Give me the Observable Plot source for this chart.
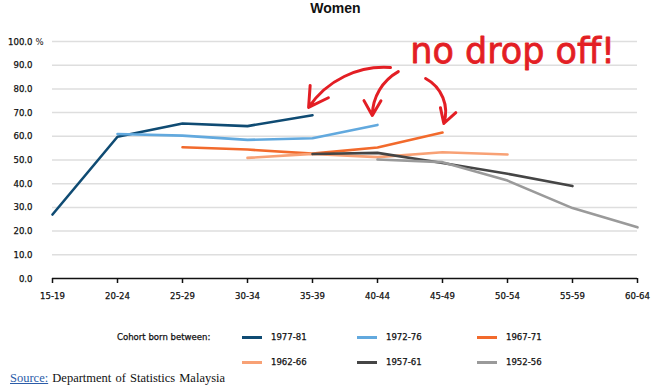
<!DOCTYPE html>
<html><head><meta charset="utf-8">
<script src="https://cdn.jsdelivr.net/npm/d3@7"></script>
<script src="https://cdn.jsdelivr.net/npm/@observablehq/plot@0.6"></script>
<style>
body{margin:0;background:#fff;width:671px;height:391px;position:relative;overflow:hidden;font-family:"DejaVu Sans Condensed","DejaVu Sans",sans-serif}
#title{position:absolute;left:0;top:0;width:671px;height:30px;line-height:32px;text-align:center;font:bold 14px "Liberation Sans",Arial,sans-serif;color:#111}
#chart{position:absolute;left:0;top:30px}
.leg{position:absolute;font-size:9.5px;font-stretch:condensed;color:#111;line-height:12px;white-space:nowrap;-webkit-text-stroke:0.25px #111}
.sw{position:absolute;height:3px;width:20px}
#source{position:absolute;left:10px;top:371px;font:12.5px "Liberation Serif","Times New Roman",serif;color:#111;word-spacing:1px;white-space:nowrap}
#source a{color:#2b5ca8;text-decoration:underline}
</style></head>
<body>
<div id="title">Women</div>
<div id="chart"></div>
<div id="legend"></div>
<div id="source"><a>Source:</a> Department of Statistics Malaysia</div>
<script>
const ageGroups = ["15-19","20-24","25-29","30-34","35-39","40-44","45-49","50-54","55-59","60-64"];
const cohorts = ["1977-81","1972-76","1967-71","1962-66","1957-61","1952-56"];
const colors = ["#0f4b73","#62a9de","#f26a2c","#f8a175","#454545","#9a9a9a"];
const c1977 = [27.0, 59.8, 65.4, 64.3, 68.9, null, null, null, null, null];
const c1972 = [null, 61.0, 60.3, 58.5, 59.2, 64.8, null, null, null, null];
const c1967 = [null, null, 55.4, 54.4, 52.7, 55.3, 61.6, null, null, null];
const c1962 = [null, null, null, 50.9, 52.6, 51.2, 53.3, 52.3, null, null];
const c1957 = [null, null, null, null, 52.5, 53.0, 48.7, 44.2, 39.0, null];
const c1952 = [null, null, null, null, null, 50.2, 49.1, 41.3, 29.7, 21.6];
const yTicks = [0,10,20,30,40,50,60,70,80,90,100];
const annotationText = ["no drop off!"];
// annotation arrows: start/end as (age-group index, %), bend in degrees
const arrowStartX = [5.2, 5.32, 5.74];
const arrowStartY = [89.0, 87.3, 84.4];
const arrowEndX = [3.94, 4.92, 6.02];
const arrowEndY = [72.2, 68.8, 65.4];
const arrowBend = [-30, -30, 40];

const series = [c1977, c1972, c1967, c1962, c1957, c1952];
const rows = [];
series.forEach((s, ci) => s.forEach((v, i) => { if (v != null) rows.push({cohort: cohorts[ci], i, v}); }));
const fontAxis = "DejaVu Sans Condensed, DejaVu Sans, sans-serif";
const tickStyle = {fontSize: 9.5, fill: "#111", stroke: null};

const arrowMarks = arrowStartX.map((_, k) => Plot.arrow([k], {
  x1: () => arrowStartX[k], y1: () => arrowStartY[k],
  x2: () => arrowEndX[k], y2: () => arrowEndY[k],
  bend: arrowBend[k], stroke: "#e31e24", strokeWidth: 3, headLength: 11
}));

const chart = Plot.plot({
  width: 671, height: 290,
  marginTop: 11, marginBottom: 42, marginLeft: 52, marginRight: 34,
  style: {fontFamily: fontAxis, background: "transparent", overflow: "visible"},
  x: {type: "linear", domain: [0, ageGroups.length - 1], axis: null},
  y: {domain: [0, 100], axis: null},
  color: {domain: cohorts, range: colors},
  marks: [
    Plot.gridY(yTicks.filter(t => t > 0), {stroke: "#dedede", strokeOpacity: 1, strokeWidth: 1.5}),
    Plot.axisY(yTicks, {tickSize: 0, tickPadding: 20, tickFormat: d3.format(".1f"), ...tickStyle, label: null}),
    Plot.text([100], {y: d => d, text: () => "%", frameAnchor: "left", textAnchor: "start", dx: -17, ...tickStyle}),
    Plot.ruleY([0], {stroke: "#111", strokeWidth: 1.5}),
    Plot.axisX(d3.range(ageGroups.length), {tickSize: 5, tickPadding: 9, tickFormat: i => ageGroups[i], fontSize: 9.5, fill: "#111", stroke: "#111", strokeWidth: 1.5, label: null}),
    Plot.line(rows, {x: "i", y: "v", z: "cohort", stroke: "cohort", strokeWidth: 2.6}),
    Plot.text(annotationText, {x: () => 7.08, y: () => 95.5, text: d => d, fontSize: 35, fill: "#e31e24", stroke: "#e31e24", strokeWidth: 0.8, fontFamily: "DejaVu Sans, sans-serif", textAnchor: "middle", lineAnchor: "middle"}),
    ...arrowMarks
  ]
});
chart.querySelectorAll('[aria-label="y-axis tick label"] text, [aria-label="x-axis tick label"] text').forEach(t => {
  t.setAttribute("stroke", "#111"); t.setAttribute("stroke-width", "0.25");
});
document.getElementById("chart").appendChild(chart);

// legend
const legend = document.getElementById("legend");
const lab = document.createElement("div");
lab.className = "leg"; lab.textContent = "Cohort born between:";
lab.style.left = "117px"; lab.style.top = "331px";
legend.appendChild(lab);
const colX = [242, 357, 477];
const rowY = [337, 362];
cohorts.forEach((c, k) => {
  const cx = colX[k % 3], cy = rowY[Math.floor(k / 3)];
  const sw = document.createElement("div");
  sw.className = "sw"; sw.style.background = colors[k];
  sw.style.left = cx + "px"; sw.style.top = (cy - 1.5) + "px";
  legend.appendChild(sw);
  const t = document.createElement("div");
  t.className = "leg"; t.textContent = c;
  t.style.left = (cx + 29) + "px"; t.style.top = (cy - 6) + "px";
  legend.appendChild(t);
});
</script>
</body></html>
